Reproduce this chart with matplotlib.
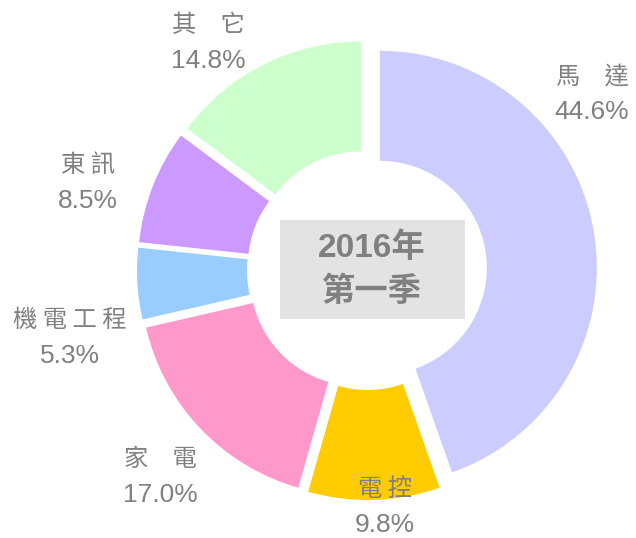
import matplotlib
matplotlib.use("Agg")
import matplotlib.pyplot as plt
from matplotlib.patches import Rectangle

# Données (2016年第一季)
categories = ["馬　達", "電 控", "家　電", "機 電 工 程", "東 訊", "其　它"]
parts = [44.6, 9.8, 17.0, 5.3, 8.5, 14.8]
couleurs = ["#CCCCFF", "#FFCC00", "#FF99CC", "#99CCFF", "#CC99FF", "#CCFFCC"]

# position des étiquettes (pixels, haut-gauche)
pos_etiquettes = [(592, 93), (385, 506), (160, 476), (70, 337), (88, 182), (208, 42)]

W, H = 636, 538
gris = "#808080"

fig = plt.figure(figsize=(W / 100, H / 100), dpi=100)
ax = fig.add_axes([0, 0, 1, 1])

centre = (367, H - 270)
rayon = 217
epaisseur = 110

wedges, _ = ax.pie(parts, colors=couleurs, startangle=90, counterclock=False,
                   radius=rayon, center=centre, explode=[13] * len(parts),
                   wedgeprops=dict(width=epaisseur, edgecolor="none"))

for nom, p, (x, y) in zip(categories, parts, pos_etiquettes):
    ax.text(x, H - y + 17, nom, ha="center", va="center", fontsize=17.5,
            color=gris, family=["Noto Sans CJK TC", "DejaVu Sans"])
    ax.text(x, H - y - 19, f"{p:.1f}%", ha="center", va="center", fontsize=19,
            color=gris, family=["Liberation Sans", "DejaVu Sans"])

# boîte centrale
ax.add_patch(Rectangle((280, H - 319), 185, 99, facecolor="#E3E3E3",
                       edgecolor="none", zorder=3))
ax.text(372, H - 248, "2016年", ha="center", va="center", fontsize=24,
        fontweight="bold", color=gris, zorder=4,
        family=["Liberation Sans", "Noto Sans CJK TC"])
ax.text(372, H - 291, "第一季", ha="center", va="center", fontsize=24,
        fontweight="bold", color=gris, zorder=4,
        family=["Noto Sans CJK TC", "DejaVu Sans"])

ax.set_xlim(0, W)
ax.set_ylim(0, H)
ax.set_aspect("auto")
ax.axis("off")

fig.savefig("out.png", dpi=100)
